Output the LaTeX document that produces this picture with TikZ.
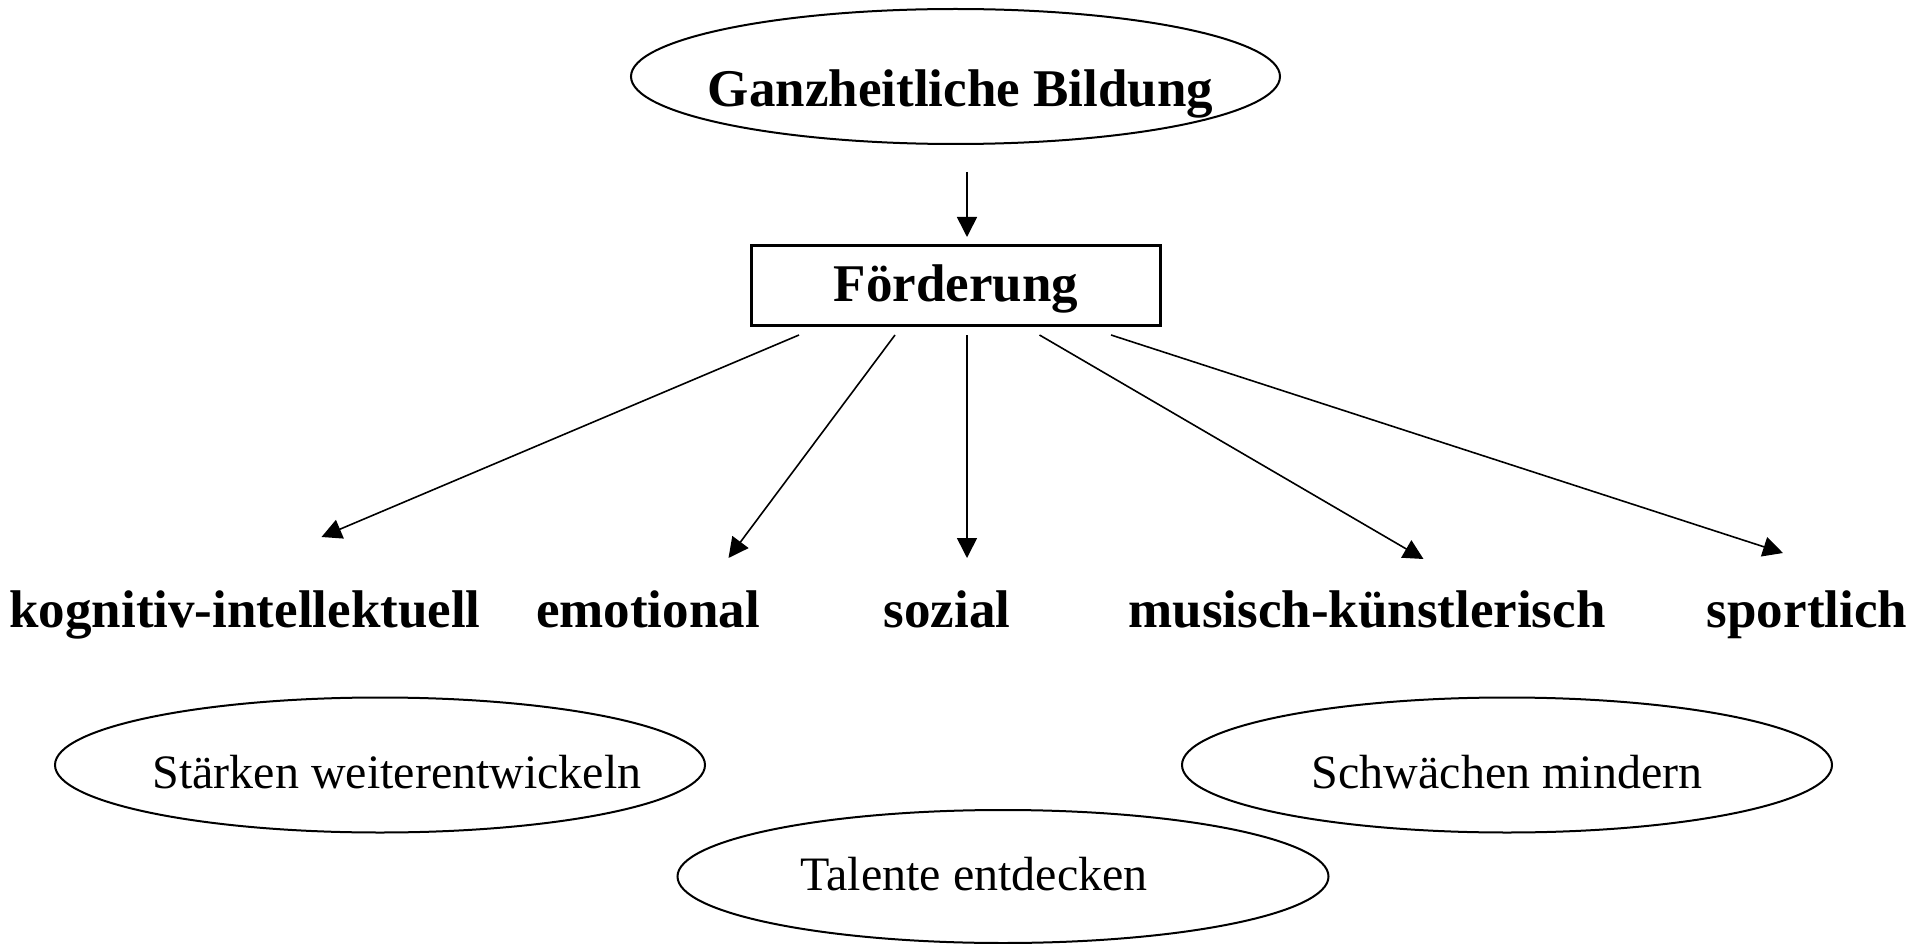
\documentclass[tikz,border=0pt]{standalone}
\usepackage{fontspec}
\setmainfont{Liberation Serif}
\usetikzlibrary{shapes.geometric,arrows.meta,calc}
\begin{document}
\begin{tikzpicture}[x=1pt,y=-1pt,
  oval/.style={draw, ellipse, line width=2pt, inner sep=0pt},
  headtext/.style={anchor=base, font=\fontsize{53}{60}\selectfont\bfseries, inner sep=0pt},
  ovaltext/.style={anchor=base, font=\fontsize{48}{56}\selectfont, inner sep=0pt},
  framebox/.style={draw, line width=3pt, inner sep=0pt, text height=44pt, text depth=12pt,
    font=\fontsize{53}{60}\selectfont\bfseries},
  arr/.style={-{Triangle[length=20pt,width=20pt]}, line width=1.6pt},
]
\fill[white] (0,0) rectangle (1915,944);
\useasboundingbox (0,0) rectangle (1915,944);

% top
\node[oval, minimum width=649pt, minimum height=135pt] (ganzoval) at (955.5,76.5) {};
\node[headtext] (ganz) at (960.5,107) {Ganzheitliche Bildung};
\node[framebox, minimum width=409pt, minimum height=80pt] (foerd) at (956,285.5) {Förderung};

% categories
\node[headtext] (kog) at (245,627) {kognitiv-intellektuell};
\node[headtext] (emo) at (648,627) {emotional};
\node[headtext] (soz) at (947,627) {sozial};
\node[headtext] (mus) at (1367,627) {musisch-künstlerisch};
\node[headtext] (spo) at (1807,627) {sportlich};

% bottom ellipses
\node[oval, minimum width=650pt, minimum height=135pt] (staerkenoval) at (380,765) {};
\node[ovaltext] (staerken) at (397,788) {Stärken weiterentwickeln};
\node[oval, minimum width=650pt, minimum height=135pt] (schwoval) at (1507,765) {};
\node[ovaltext] (schw) at (1507,788) {Schwächen mindern};
\node[oval, minimum width=651pt, minimum height=133pt] (taloval) at (1003,876.5) {};
\node[ovaltext] (tal) at (974,890) {Talente entdecken};

% arrows
\draw[arr] ($(ganzoval.south)+(11.5,27)$) -- ($(foerd.north)+(11,-7)$);
\draw[arr] ($(foerd.south)+(-157,8)$) -- ($(kog.base)+(76.5,-90)$);
\draw[arr] ($(foerd.south)+(-61,8)$) -- ($(emo.base)+(80.5,-69)$);
\draw[arr] ($(foerd.south)+(11,8)$) -- ($(soz.base)+(20,-69)$);
\draw[arr] ($(foerd.south)+(83.5,8)$) -- ($(mus.base)+(56.5,-68)$);
\draw[arr] ($(foerd.south)+(155,8)$) -- ($(spo.base)+(-24,-74)$);
\end{tikzpicture}
\end{document}
